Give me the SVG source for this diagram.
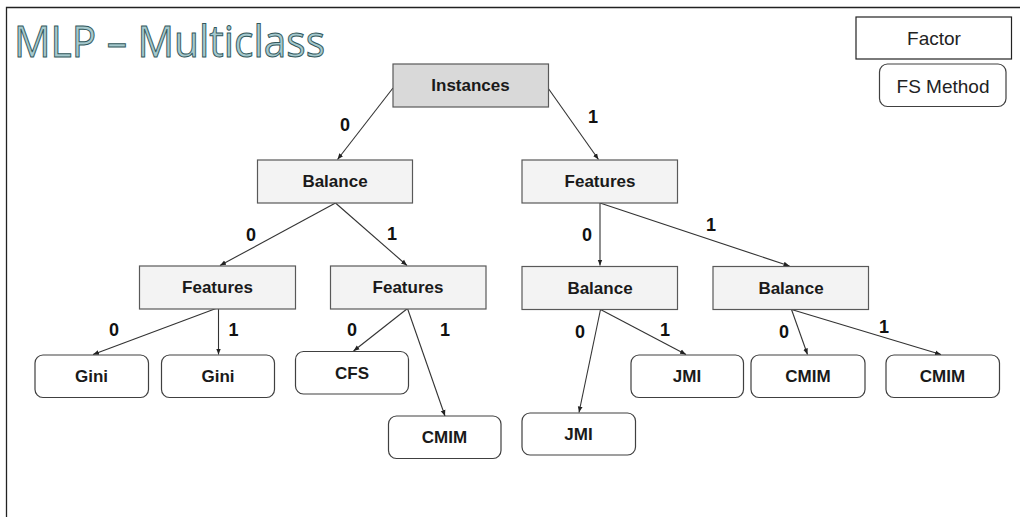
<svg xmlns="http://www.w3.org/2000/svg" width="1020" height="517" viewBox="0 0 1020 517">
  <style>
    .factor { fill: #f3f3f3; stroke: #595959; stroke-width: 1.2; }
    .root { fill: #d9d9d9; stroke: #595959; stroke-width: 1.2; }
    .method { fill: #ffffff; stroke: #404040; stroke-width: 1.2; }
    .lbl { font-family: "Liberation Sans", Arial, sans-serif; font-weight: bold; font-size: 17px; fill: #1a1a1a; text-anchor: middle; dominant-baseline: central; }
    .edge { font-family: "Liberation Sans", Arial, sans-serif; font-weight: bold; font-size: 18px; fill: #111111; text-anchor: middle; dominant-baseline: central; }
    .legend { font-family: "Liberation Sans", Arial, sans-serif; font-size: 19px; fill: #222222; text-anchor: middle; dominant-baseline: central; }
    .conn line { stroke: #333333; stroke-width: 1.1; marker-end: url(#arrow); }
  </style>
  <defs>
    <marker id="arrow" viewBox="0 0 10 10" refX="10" refY="5" markerWidth="6" markerHeight="6" markerUnits="userSpaceOnUse" orient="auto">
      <path d="M0,1 L10,5 L0,9 z" fill="#222222"/>
    </marker>
  </defs>

  <rect width="1020" height="517" fill="#ffffff"/>
  <!-- slide frame -->
  <path d="M6.5,517 V7.5 H1020" fill="none" stroke="#222222" stroke-width="1.3"/>

  <!-- title -->
  <text x="14" y="57" font-family="'Open Sans', Lato, sans-serif" font-size="44" fill="#a5c9cd" stroke="#33585c" stroke-width="1" textLength="311" lengthAdjust="spacingAndGlyphs">MLP – Multiclass</text>

  <!-- legend -->
  <g id="legend-factor">
    <rect x="856" y="17" width="155.5" height="42" fill="#ffffff" stroke="#222222" stroke-width="1.2"/>
    <text class="legend" x="934" y="38.5">Factor</text>
  </g>
  <g id="legend-method">
    <rect x="879.5" y="64" width="126.5" height="42.5" rx="8" class="method"/>
    <text class="legend" x="943" y="86">FS Method</text>
  </g>

  <!-- connectors -->
  <g id="connectors" class="conn">
    <line x1="393" y1="88" x2="337.5" y2="159.5"/>
    <line x1="548" y1="88" x2="598.5" y2="159.5"/>
    <line x1="335.5" y1="203" x2="220" y2="265.5"/>
    <line x1="335.5" y1="203" x2="407" y2="265.5"/>
    <line x1="600" y1="203" x2="600" y2="265.5"/>
    <line x1="600" y1="203" x2="789.5" y2="266"/>
    <line x1="216" y1="308.5" x2="93" y2="354.5"/>
    <line x1="218.5" y1="308.5" x2="218.5" y2="354.5"/>
    <line x1="407.5" y1="308.5" x2="353.5" y2="351"/>
    <line x1="407.5" y1="308.5" x2="445" y2="416"/>
    <line x1="600.5" y1="309.5" x2="579" y2="412.5"/>
    <line x1="600.5" y1="309.5" x2="686" y2="354.5"/>
    <line x1="791.5" y1="309.5" x2="807.5" y2="354.5"/>
    <line x1="791.5" y1="309.5" x2="941" y2="354.5"/>
  </g>

  <!-- edge labels -->
  <g id="edge-labels">
    <text class="edge" x="345" y="125">0</text>
    <text class="edge" x="593" y="117">1</text>
    <text class="edge" x="251" y="235">0</text>
    <text class="edge" x="392" y="234">1</text>
    <text class="edge" x="587" y="235">0</text>
    <text class="edge" x="711" y="225">1</text>
    <text class="edge" x="114" y="330">0</text>
    <text class="edge" x="233.5" y="330">1</text>
    <text class="edge" x="352" y="330">0</text>
    <text class="edge" x="445" y="330">1</text>
    <text class="edge" x="580" y="332">0</text>
    <text class="edge" x="665" y="330">1</text>
    <text class="edge" x="784" y="332">0</text>
    <text class="edge" x="884" y="327">1</text>
  </g>

  <!-- factor nodes -->
  <g id="instances">
    <rect x="393" y="64" width="155.5" height="43" class="root"/>
    <text class="lbl" x="470.5" y="85.5">Instances</text>
  </g>
  <g id="balance-0">
    <rect x="257.5" y="160" width="155" height="43" class="factor"/>
    <text class="lbl" x="335" y="181.5">Balance</text>
  </g>
  <g id="features-1">
    <rect x="522" y="160" width="155.5" height="43" class="factor"/>
    <text class="lbl" x="600" y="181.5">Features</text>
  </g>
  <g id="features-00">
    <rect x="139.5" y="266" width="156" height="43" class="factor"/>
    <text class="lbl" x="217.5" y="287.5">Features</text>
  </g>
  <g id="features-01">
    <rect x="330.5" y="266" width="155.5" height="43" class="factor"/>
    <text class="lbl" x="408" y="287.5">Features</text>
  </g>
  <g id="balance-10">
    <rect x="522" y="266.5" width="155.5" height="43" class="factor"/>
    <text class="lbl" x="600" y="288">Balance</text>
  </g>
  <g id="balance-11">
    <rect x="713" y="266.5" width="155.5" height="43" class="factor"/>
    <text class="lbl" x="791" y="288">Balance</text>
  </g>

  <!-- method leaves -->
  <g id="gini-a">
    <rect x="35" y="355" width="113.5" height="42.5" rx="8" class="method"/>
    <text class="lbl" x="91.5" y="376.5">Gini</text>
  </g>
  <g id="gini-b">
    <rect x="161.5" y="355" width="113" height="42.5" rx="8" class="method"/>
    <text class="lbl" x="218" y="376.5">Gini</text>
  </g>
  <g id="cfs">
    <rect x="295.5" y="351.5" width="113" height="42.5" rx="8" class="method"/>
    <text class="lbl" x="352" y="373">CFS</text>
  </g>
  <g id="cmim-a">
    <rect x="388.5" y="416" width="112.5" height="42.5" rx="8" class="method"/>
    <text class="lbl" x="444.5" y="437.5">CMIM</text>
  </g>
  <g id="jmi-a">
    <rect x="522" y="413" width="113.5" height="42" rx="8" class="method"/>
    <text class="lbl" x="578.5" y="434">JMI</text>
  </g>
  <g id="jmi-b">
    <rect x="631" y="355" width="112.5" height="42.5" rx="8" class="method"/>
    <text class="lbl" x="687" y="376.5">JMI</text>
  </g>
  <g id="cmim-b">
    <rect x="751" y="355" width="114" height="42.5" rx="8" class="method"/>
    <text class="lbl" x="808" y="376.5">CMIM</text>
  </g>
  <g id="cmim-c">
    <rect x="886" y="355" width="113.5" height="42.5" rx="8" class="method"/>
    <text class="lbl" x="942.5" y="376.5">CMIM</text>
  </g>
</svg>
